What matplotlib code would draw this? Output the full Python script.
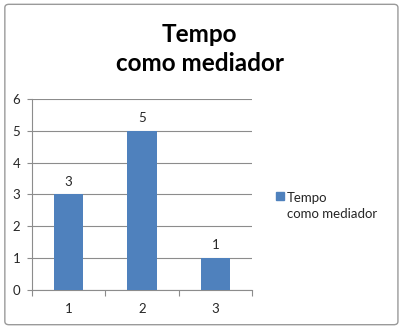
#!/usr/bin/env python3
"""Tempo como mediador — Excel-style column chart."""

import matplotlib
matplotlib.use("Agg")
import matplotlib.pyplot as plt
from matplotlib.patches import FancyBboxPatch, Rectangle

categories = ["1", "2", "3"]
values = [3, 5, 1]
y_ticks = [0, 1, 2, 3, 4, 5, 6]
title = "Tempo\ncomo mediador"
series_name = "Tempo\ncomo mediador"

BAR_COLOR = "#4F81BD"
GRID_COLOR = "#8C8C8C"
TEXT_COLOR = "#262626"

plt.rcParams["font.family"] = ["Lato", "DejaVu Sans"]

fig = plt.figure(figsize=(4.04, 3.32), dpi=100)
fig.patch.set_facecolor("white")

# rounded outer frame like the Excel chart area
frame = FancyBboxPatch((0.012, 0.022), 0.973, 0.965,
                       boxstyle="round,pad=0,rounding_size=0.01",
                       transform=fig.transFigure, fill=False,
                       edgecolor="#9A9A9A", linewidth=1.0)
fig.patches.append(frame)

ax = fig.add_axes((0.079, 0.1265, 0.545, 0.5755))
x = list(range(len(categories)))
bars = ax.bar(x, values, width=0.4, color=BAR_COLOR, zorder=3)
ax.bar_label(bars, labels=[str(v) for v in values], padding=5,
             fontsize=9.5, color=TEXT_COLOR)

ax.set_xlim(-0.5, len(categories) - 0.5)
ax.set_ylim(0, 6)
ax.set_yticks(y_ticks)
ax.set_yticklabels([str(t) for t in y_ticks], fontsize=9.5, color=TEXT_COLOR)
ax.set_xticks(x)
ax.set_xticklabels(categories, fontsize=9.5, color=TEXT_COLOR)
ax.set_xticks([i - 0.5 for i in range(len(categories) + 1)], minor=True)
ax.tick_params(axis="x", which="major", length=0, pad=9)
ax.tick_params(axis="x", which="minor", length=4, color=GRID_COLOR, width=0.8)
ax.tick_params(axis="y", length=3.5, color=GRID_COLOR, width=0.8, pad=5)

ax.grid(axis="y", color=GRID_COLOR, linewidth=0.8, zorder=0)
for side in ("top", "right"):
    ax.spines[side].set_visible(False)
for side in ("left", "bottom"):
    ax.spines[side].set_color(GRID_COLOR)
    ax.spines[side].set_linewidth(0.8)

fig.text(0.494, 0.853, title, ha="center", va="center", fontsize=17.5,
         fontweight="bold", color="black", linespacing=1.3)

# legend, square aligned with the first text line
fig.patches.append(Rectangle((0.683, 0.398), 0.021, 0.025,
                             transform=fig.transFigure, color=BAR_COLOR))
fig.text(0.711, 0.421, series_name, ha="left", va="top", fontsize=9.5,
         color=TEXT_COLOR, linespacing=1.4)

fig.savefig("out.png", dpi=100, facecolor="white")
